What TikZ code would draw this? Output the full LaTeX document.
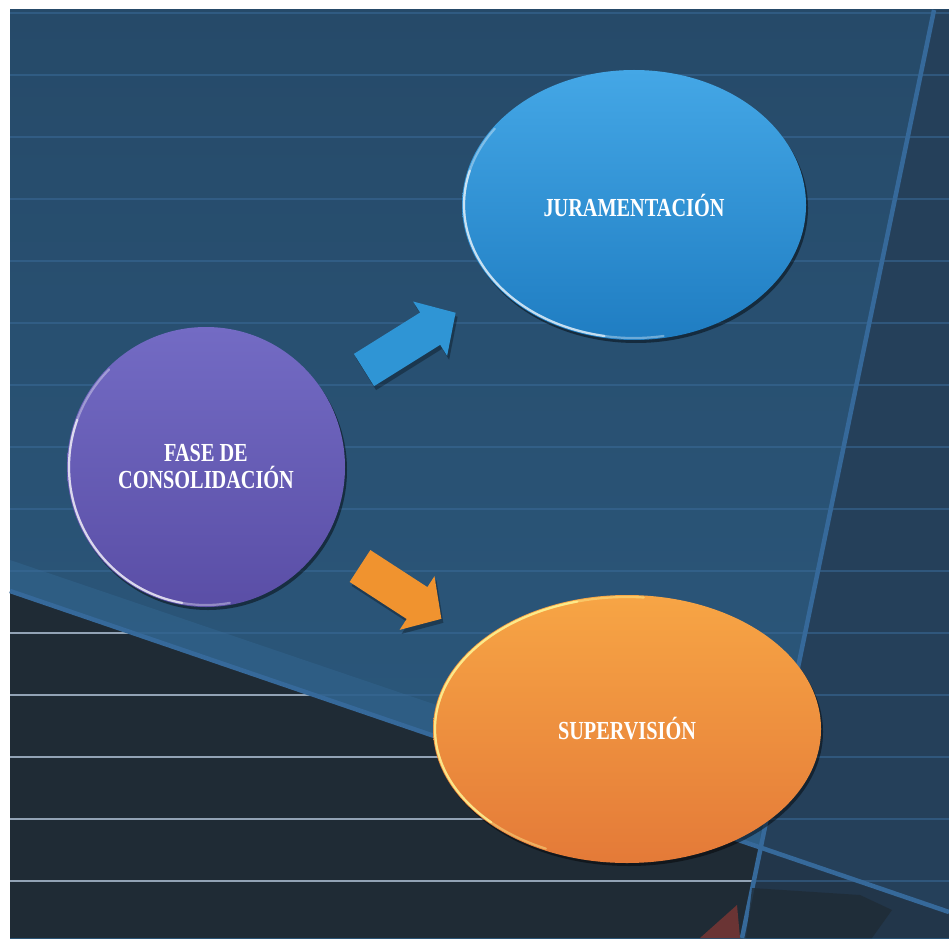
\documentclass[tikz,border=0pt]{standalone}
\usepackage{fontspec}
\newfontfamily\lblfont[FakeStretch=0.78]{Liberation Serif}
\usetikzlibrary{shapes.geometric,shadows}
\definecolor{panelTop}{HTML}{264A69}
\definecolor{panelBot}{HTML}{2C5A7F}
\definecolor{stripC}{HTML}{25405A}
\definecolor{lowR}{HTML}{22364A}
\definecolor{darkC}{HTML}{1F2B35}
\definecolor{lineBlue}{HTML}{3A6A98}
\definecolor{lineLight}{HTML}{A4B3C2}
\definecolor{edgeBlue}{HTML}{36699A}
\definecolor{bandBlue}{HTML}{31638C}
\definecolor{redWedge}{HTML}{6A3434}
\definecolor{bluTop}{HTML}{44A7E6}
\definecolor{bluBot}{HTML}{1F7DC2}
\definecolor{purTop}{HTML}{736BC4}
\definecolor{purBot}{HTML}{5A4EA6}
\definecolor{orTop}{HTML}{F7A545}
\definecolor{orBot}{HTML}{E47A38}
\definecolor{arBlue}{HTML}{2F95D5}
\definecolor{arOrange}{HTML}{F0932F}
\tikzset{
  bubble/.style={ellipse, draw=none, text=white, align=center, inner sep=0pt,
    font=\lblfont\bfseries\fontsize{26}{27}\selectfont,
    drop shadow={shadow xshift=2pt, shadow yshift=-3pt, opacity=0.45, fill=black}},
  hline/.style={draw=lineBlue, line width=2.5pt},
  hlight/.style={draw=lineLight, line width=2.5pt},
  edgeline/.style={draw=edgeBlue, line width=4.5pt},
  rim/.style={line width=2.2pt, line cap=round},
}
\begin{document}
\begin{tikzpicture}[x=1pt,y=-1pt]
\useasboundingbox (0,0) rectangle (949,941);
\fill[white] (0,0) rectangle (949,941);
% panel
\fill[top color=panelTop, bottom color=panelBot] (10,10) rectangle (949,938);
% lighter band along the diagonal boundary
\fill[bandBlue, opacity=0.6] (10,560) -- (760,815) -- (760,849) -- (10,593) -- cycle;
% right strip
\fill[stripC] (934,10) -- (949,10) -- (949,913) -- (760,849) -- cycle;
% lower right region
\fill[lowR] (760,849) -- (949,913) -- (949,938) -- (742,938) -- cycle;
% lower left dark region
\fill[darkC] (10,593) -- (760,849) -- (742,938) -- (10,938) -- cycle;
% horizontal lines
\foreach \y in {13,75,...,881} \draw[hline, opacity=0.55] (10,\y) -- (949,\y);
\begin{scope}
  \clip (10,593) -- (760,849) -- (742,938) -- (10,938) -- cycle;
  \foreach \y in {633,695,...,881} \draw[hlight, opacity=0.85] (10,\y) -- (949,\y);
\end{scope}
% slanted edges
\draw[edgeline] (934,10) -- (742,938);
\draw[edgeline] (10,591) -- (949,912);
% dark shape and red wedge at bottom
\fill[darkC, opacity=0.8] (752,888) -- (860,895) -- (892,910) -- (872,938) -- (746,938) -- cycle;
\fill[redWedge] (700,938) -- (737,905) -- (740,938) -- cycle;

% bubbles
\node[bubble, minimum width=344pt, minimum height=270pt, top color=bluTop, bottom color=bluBot]
  (jur) at (634,205) {JURAMENTACIÓN};
\node[bubble, minimum width=278pt, minimum height=280pt, top color=purTop, bottom color=purBot]
  (fase) at (206,467) {FASE DE\\CONSOLIDACIÓN};
\node[bubble, minimum width=388pt, minimum height=268pt, top color=orTop, bottom color=orBot]
  (sup) at (627,729) {SUPERVISIÓN};

% rim highlights
\draw[rim, white, opacity=0.35] ([shift={(80:170 and 133)}]jur.center)
  arc[start angle=80, end angle=215, x radius=170, y radius=133];
\draw[rim, white, opacity=0.6] ([shift={(100:170 and 133)}]jur.center)
  arc[start angle=100, end angle=195, x radius=170, y radius=133];
\draw[rim, white, opacity=0.35] ([shift={(80:137 and 138)}]fase.center)
  arc[start angle=80, end angle=225, x radius=137, y radius=138];
\draw[rim, white, opacity=0.65] ([shift={(100:137 and 138)}]fase.center)
  arc[start angle=100, end angle=200, x radius=137, y radius=138];
\draw[rim, yellow!40!white, opacity=0.4] ([shift={(115:192 and 132)}]sup.center)
  arc[start angle=115, end angle=275, x radius=192, y radius=132];
\draw[rim, yellow!40!white, opacity=0.7] ([shift={(135:192 and 132)}]sup.center)
  arc[start angle=135, end angle=255, x radius=192, y radius=132];

% block arrows
\begin{scope}[shift={(366,374)}, rotate=32]
  \fill[black, opacity=0.3] (0,-19) -- (78,-19) -- (78,-32) -- (108,0) -- (78,32) -- (78,19) -- (0,19) -- cycle;
\end{scope}
\begin{scope}[shift={(364,370)}, rotate=32]
  \fill[arBlue] (0,-19) -- (78,-19) -- (78,-32) -- (108,0) -- (78,32) -- (78,19) -- (0,19) -- cycle;
\end{scope}
\begin{scope}[shift={(362,570)}, rotate=-33]
  \fill[black, opacity=0.3] (0,-19) -- (68,-19) -- (68,-32) -- (97,0) -- (68,32) -- (68,19) -- (0,19) -- cycle;
\end{scope}
\begin{scope}[shift={(360,566)}, rotate=-33]
  \fill[arOrange] (0,-19) -- (68,-19) -- (68,-32) -- (97,0) -- (68,32) -- (68,19) -- (0,19) -- cycle;
\end{scope}
\end{tikzpicture}
\end{document}
